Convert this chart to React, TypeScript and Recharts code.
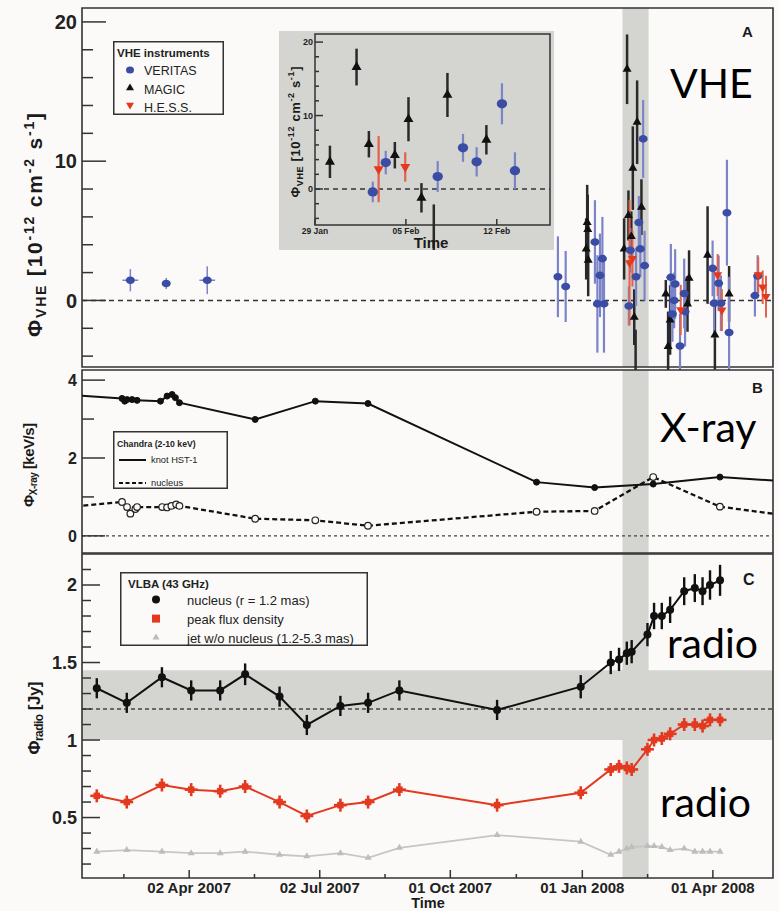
import React from "react";
import {
  ComposedChart,
  Scatter,
  Line,
  XAxis,
  YAxis,
  ReferenceArea,
  ReferenceLine,
  ErrorBar,
  Legend,
} from "recharts";

// time axis: days counted from 01 Jan 2007
const xDomain: [number, number] = [16.3, 497.9];
const xMajorTicks = [91, 182, 273, 365, 456];
const xMajorLabels = ["02 Apr 2007", "02 Jul 2007", "01 Oct 2007", "01 Jan 2008", "01 Apr 2008"];
const xMinorTicks = [45.5, 136.5, 227.5, 319, 410.5];
const flareBand = [393, 411.2]; // 29 Jan - 16 Feb 2008
const insetStart = 393; // 29 Jan 2008

// panel A: VHE flux [1e-12 cm-2 s-1]
const vheDomain: [number, number] = [-4.78, 21.0];
const vheTicks = [-4, -2, 0, 2, 4, 6, 8, 10, 12, 14, 16, 18, 20];
const vheMajor = [0, 10, 20];

const veritasEarlyDay = [50, 75, 103.6];
const veritasEarlyFlux = [1.45, 1.22, 1.45];
const veritasEarlyErr = [0.8, 0.4, 1.0];
const veritasEarlyXErr = [5.5, 0, 5.5];

const veritasDay = [348, 353.4, 373.8, 375.5, 377.3, 379, 380.1, 426.7, 427.8, 429, 429.7, 433.1, 436, 436.6, 455.8, 456.9, 460, 461.6, 465.8, 467.3, 485.3, 487.2];
const veritasFlux = [1.7, 1.0, 4.2, -0.25, 1.8, 3.0, -0.25, 1.66, -0.97, 0, 1.18, -3.27, 0.5, -0.8, 2.3, -0.2, 1.23, -0.2, 6.3, -2.3, 0.35, 1.75];
const veritasErr = [2.9, 2.55, 3, 3.5, 3, 3, 3.5, 2.4, 2, 2, 2.5, 2.3, 2.5, 2.5, 2, 2.5, 2, 2, 3.8, 4, 1.5, 1.5];

const magicDay = [367.7, 368.4, 368.8, 369.1, 423.2, 424.8, 426.2, 438.3, 439.4, 452.3, 457.4, 467.3];
const magicFlux = [3.7, 5.6, 5.1, 2.9, 0.47, -3.3, -1.4, -0.25, 1.6, 3.26, -2.47, 0.47];
const magicErr = [2.2, 2.7, 2.5, 2.6, 1.0, 2.5, 2.5, 2, 2, 3.5, 2.5, 2];

const hessDay = [433.6, 459.3, 462.3, 487.6, 490.7, 493];
const hessFlux = [-0.68, 1.83, -0.7, 1.83, 0.95, 0.27];
const hessErr = [1.8, 1.5, 1.5, 1.3, 1.2, 1.5];

// inset: days counted from 29 Jan 2008
const insetDomain: [number, number] = [0, 18.1];
const insetYDomain: [number, number] = [-4.9, 21.1];
const insetXTicks = [0, 7, 14];
const insetXLabels = ["29 Jan", "05 Feb", "12 Feb"];
const insetMagicDay = [1.15, 3.2, 4.15, 6.15, 7.2, 8.2, 9.15, 10.2, 13.2];
const insetMagicFlux = [3.7, 16.6, 6.1, 4.6, 9.5, -1.2, -6.3, 12.8, 6.7];
const insetMagicErr = [2.2, 2.5, 1.8, 1.8, 3, 2, 4.2, 3, 2];
const insetVeritasDay = [4.45, 5.45, 9.45, 11.4, 12.45, 14.4, 15.4];
const insetVeritasFlux = [-0.4, 3.6, 1.7, 5.6, 3.7, 11.6, 2.5];
const insetVeritasErr = [1.4, 1.6, 2.1, 1.9, 2, 2.8, 2.5];
const insetHessDay = [4.9, 6.95];
const insetHessFlux = [2.7, 3.0];
const insetHessErr = [4.5, 2];

// panel B: Chandra X-ray [keV/s]
const xrayDomain: [number, number] = [-0.44, 4.26];
const xrayTicks = [0, 1, 2, 3, 4];
const xrayMajor = [0, 2, 4];
const hstDay = [-5, 44.2, 46.1, 47.7, 51.2, 54.7, 71, 75.6, 79.1, 81.4, 84.2, 137, 178.9, 215.6, 333.1, 373.6, 414.4, 460.9, 520];
const hstFlux = [3.65, 3.53, 3.46, 3.5, 3.5, 3.48, 3.46, 3.59, 3.63, 3.55, 3.42, 2.99, 3.46, 3.4, 1.38, 1.24, 1.33, 1.51, 1.37];
const nucXDay = [-5, 44.2, 47.7, 50, 53.5, 54.7, 72.2, 75.6, 78.6, 81.9, 84.2, 137, 178.9, 215.6, 333.1, 373.6, 414.4, 460.9, 520];
const nucXFlux = [0.7, 0.87, 0.74, 0.57, 0.69, 0.74, 0.74, 0.73, 0.77, 0.81, 0.77, 0.44, 0.4, 0.26, 0.62, 0.64, 1.51, 0.75, 0.46];

// panel C: VLBA 43 GHz [Jy]
const radioDomain: [number, number] = [0.11, 2.2];
const radioTicks = [0.2, 0.3, 0.4, 0.5, 0.6, 0.7, 0.8, 0.9, 1, 1.1, 1.2, 1.3, 1.4, 1.5, 1.6, 1.7, 1.8, 1.9, 2, 2.1];
const radioMajor = [0.5, 1, 1.5, 2];
const radioDay = [26.6, 47.5, 72, 92.4, 112.6, 130, 154, 173, 196.4, 215.7, 237.5, 305.6, 363.9, 384.8, 390.6, 396, 399.4, 410.4, 415, 420.4, 426.2, 436, 443.4, 448.8, 454, 461];
const nucleusFlux = [1.334, 1.24, 1.405, 1.32, 1.32, 1.424, 1.28, 1.097, 1.22, 1.24, 1.32, 1.194, 1.344, 1.5, 1.52, 1.56, 1.57, 1.68, 1.8, 1.8, 1.84, 1.96, 1.98, 1.96, 2.0, 2.03];
const nucleusErr = [0.065, 0.065, 0.065, 0.065, 0.065, 0.07, 0.065, 0.065, 0.065, 0.065, 0.065, 0.065, 0.075, 0.075, 0.075, 0.075, 0.075, 0.075, 0.085, 0.085, 0.085, 0.09, 0.09, 0.09, 0.095, 0.1];
const peakFlux = [0.64, 0.6, 0.71, 0.68, 0.67, 0.7, 0.6, 0.51, 0.58, 0.6, 0.68, 0.58, 0.66, 0.81, 0.83, 0.82, 0.81, 0.94, 1.0, 1.01, 1.04, 1.1, 1.1, 1.09, 1.13, 1.13];
const peakErr = 0.042;
const peakXErr = 4.5;
const jetFlux = [0.28, 0.29, 0.28, 0.27, 0.27, 0.28, 0.26, 0.25, 0.27, 0.24, 0.305, 0.387, 0.344, 0.26, 0.28, 0.3, 0.31, 0.316, 0.316, 0.31, 0.29, 0.3, 0.28, 0.28, 0.28, 0.28];
const quiescentBand = [1.0, 1.45];
const quiescentLevel = 1.2;

const BG = "#fbfaf8";
const GRAY = "#d4d5d0";
const FRAME = "#333";
const FONT = "'Liberation Sans', Arial, Helvetica, sans-serif";
const BLUE = "#3a4ca4";
const BLUE_ERR = "#7c84c8";
const RED = "#e2391f";
const RED_ERR = "#e4604a";

type Pt = { day: number; v: number; e: number; ex: number };
const zip = (d: number[], v: number[], e?: number[], ex?: number[], shift = 0): Pt[] =>
  d.map((day, i) => ({ day: day + shift, v: v[i], e: e ? e[i] : 0, ex: ex ? ex[i] : 0 }));

const veritasEarly = zip(veritasEarlyDay, veritasEarlyFlux, veritasEarlyErr, veritasEarlyXErr);
const veritasMain = [...zip(veritasDay, veritasFlux, veritasErr), ...zip(insetVeritasDay, insetVeritasFlux, insetVeritasErr, undefined, insetStart)];
const magicMain = [...zip(magicDay, magicFlux, magicErr), ...zip(insetMagicDay, insetMagicFlux, insetMagicErr, undefined, insetStart)];
const hessMain = [...zip(hessDay, hessFlux, hessErr), ...zip(insetHessDay, insetHessFlux, insetHessErr, undefined, insetStart)];
const insetVeritas = zip(insetVeritasDay, insetVeritasFlux, insetVeritasErr);
const insetMagic = zip(insetMagicDay, insetMagicFlux, insetMagicErr);
const insetHess = zip(insetHessDay, insetHessFlux, insetHessErr);
const hstData = zip(hstDay, hstFlux);
const nucXData = zip(nucXDay, nucXFlux);
const nucleusData = zip(radioDay, nucleusFlux, nucleusErr);
const peakData = zip(radioDay, peakFlux, radioDay.map(() => peakErr), radioDay.map(() => peakXErr));
const jetData = zip(radioDay, jetFlux);

const near = (list: number[], v: number) => list.some((m) => Math.abs(m - v) < 1e-6);

const makeYTick = (major: number[], big: number, small: number, fontSize: number, gap: number) => (p: any) => {
  const v = p.payload.value;
  const isMajor = near(major, v);
  const ax = p.x + gap;
  return (
    <g>
      <line x1={ax} x2={ax + (isMajor ? big : small)} y1={p.y} y2={p.y} stroke={FRAME} strokeWidth={1.5} />
      {isMajor && (
        <text x={p.x} y={p.y} dy="0.36em" textAnchor="end" fontSize={fontSize} fontWeight="bold" fill="#222" fontFamily={FONT}>
          {String(v)}
        </text>
      )}
    </g>
  );
};

const makeXTick = (major: number[], labels: string[] | null, big: number, small: number, fontSize: number, dy: number) => (p: any) => {
  const v = p.payload.value;
  const idx = major.findIndex((m) => Math.abs(m - v) < 1e-6);
  const len = idx >= 0 ? big : small;
  return (
    <g>
      <line x1={p.x} x2={p.x} y1={p.y} y2={p.y - len} stroke={FRAME} strokeWidth={1.5} />
      {labels && idx >= 0 && (
        <text x={p.x} y={p.y + dy} textAnchor="middle" fontSize={fontSize} fontWeight="bold" fill="#222" fontFamily={FONT}>
          {labels[idx]}
        </text>
      )}
    </g>
  );
};

const ellipse = (rx: number, ry: number, fill: string) => (p: any) => (
  <ellipse cx={p.cx} cy={p.cy} rx={rx} ry={ry} fill={fill} />
);
const triUp = (s: number, fill: string) => (p: any) => {
  const h = s * 0.866;
  return <polygon points={`${p.cx},${p.cy - (2 * h) / 3} ${p.cx - s / 2},${p.cy + h / 3} ${p.cx + s / 2},${p.cy + h / 3}`} fill={fill} />;
};
const triDown = (s: number, fill: string) => (p: any) => {
  const h = s * 0.866;
  return <polygon points={`${p.cx},${p.cy + (2 * h) / 3} ${p.cx - s / 2},${p.cy - h / 3} ${p.cx + s / 2},${p.cy - h / 3}`} fill={fill} />;
};
const square = (s: number, fill: string) => (p: any) => (
  <rect x={p.cx - s / 2} y={p.cy - s / 2} width={s} height={s} fill={fill} />
);
const circle = (r: number, fill: string) => (p: any) => <circle cx={p.cx} cy={p.cy} r={r} fill={fill} />;

const allXTicks = [...xMinorTicks, ...xMajorTicks].sort((a, b) => a - b);

function LegendVHE() {
  return (
    <svg width={111} height={74} style={{ display: "block" }}>
      <rect x={0.75} y={0.75} width={109.5} height={72.5} fill="none" stroke={FRAME} strokeWidth={1.5} />
      <text x={4} y={16} fontSize={11.5} fontWeight="bold" fill="#222" fontFamily={FONT}>VHE instruments</text>
      <ellipse cx={17} cy={29} rx={4} ry={3.6} fill={BLUE} />
      <text x={31} y={34} fontSize={12.5} fill="#222" fontFamily={FONT}>VERITAS</text>
      {triUp(8, "#111")({ cx: 17, cy: 47 })}
      <text x={31} y={52.5} fontSize={12.5} fill="#222" fontFamily={FONT}>MAGIC</text>
      {triDown(8, RED)({ cx: 17, cy: 64 })}
      <text x={31} y={70.5} fontSize={12.5} fill="#222" fontFamily={FONT}>H.E.S.S.</text>
    </svg>
  );
}

function LegendXray() {
  return (
    <svg width={115} height={58} style={{ display: "block" }}>
      <rect x={0.75} y={0.75} width={113.5} height={56.5} fill="none" stroke={FRAME} strokeWidth={1.5} />
      <text x={4} y={15.5} fontSize={8.7} fontWeight="bold" fill="#222" fontFamily={FONT}>Chandra (2-10 keV)</text>
      <line x1={6} x2={33} y1={29} y2={29} stroke="#111" strokeWidth={2} />
      <text x={38} y={32.3} fontSize={9.3} fill="#222" fontFamily={FONT}>knot HST-1</text>
      <line x1={6} x2={33} y1={52} y2={52} stroke="#111" strokeWidth={2} strokeDasharray="4 2.5" />
      <text x={38} y={55.3} fontSize={9.3} fill="#222" fontFamily={FONT}>nucleus</text>
    </svg>
  );
}

function LegendRadio() {
  return (
    <svg width={248} height={74} style={{ display: "block" }}>
      <rect x={0.75} y={0.75} width={246.5} height={72.5} fill="none" stroke={FRAME} strokeWidth={1.5} />
      <text x={8} y={16} fontSize={11.5} fontWeight="bold" fill="#222" fontFamily={FONT}>VLBA (43 GHz)</text>
      <circle cx={36} cy={27.6} r={4} fill="#111" />
      <text x={67} y={33.3} fontSize={13} fill="#222" fontFamily={FONT}>nucleus (r = 1.2 mas)</text>
      <rect x={32} y={42.6} width={8} height={8} fill={RED} />
      <text x={67} y={52.3} fontSize={13} fill="#222" fontFamily={FONT}>peak flux density</text>
      {triUp(7, "#bbb")({ cx: 36, cy: 65.6 })}
      <text x={67} y={71} fontSize={13} fill="#222" fontFamily={FONT}>jet w/o nucleus (1.2-5.3 mas)</text>
    </svg>
  );
}

function Overlay() {
  const t = { fontFamily: FONT, fontWeight: "bold" as const, fill: "#1a1a1a" };
  const big = { fontFamily: "Lato, 'Open Sans', sans-serif", fontSize: 41, fill: "#000" };
  return (
    <svg width={779} height={911} style={{ position: "absolute", left: 0, top: 0, pointerEvents: "none" }}>
      <text {...t} transform="rotate(-90 42 225)" x={42} y={225} textAnchor="middle" fontSize={21} textLength={224} lengthAdjust="spacing">
        Φ<tspan fontSize={14} dy={4}>VHE</tspan><tspan dy={-4}> [10</tspan><tspan fontSize={14} dy={-8}>-12</tspan><tspan dy={8}> cm</tspan><tspan fontSize={14} dy={-8}>-2</tspan><tspan dy={8}> s</tspan><tspan fontSize={14} dy={-8}>-1</tspan><tspan dy={8}>]</tspan>
      </text>
      <text {...t} transform="rotate(-90 34 465)" x={34} y={465} textAnchor="middle" fontSize={15} textLength={84} lengthAdjust="spacing">
        Φ<tspan fontSize={10} dy={3}>X-ray</tspan><tspan dy={-3}> [keV/s]</tspan>
      </text>
      <text {...t} transform="rotate(-90 40 718)" x={40} y={718} textAnchor="middle" fontSize={17} textLength={73} lengthAdjust="spacing">
        Φ<tspan fontSize={12} dy={3}>radio</tspan><tspan dy={-3}> [Jy]</tspan>
      </text>
      <text {...t} transform="rotate(-90 300 132)" x={300} y={132} textAnchor="middle" fontSize={13} textLength={131} lengthAdjust="spacing">
        Φ<tspan fontSize={9} dy={3}>VHE</tspan><tspan dy={-3}> [10</tspan><tspan fontSize={9} dy={-6}>-12</tspan><tspan dy={6}> cm</tspan><tspan fontSize={9} dy={-6}>-2</tspan><tspan dy={6}> s</tspan><tspan fontSize={9} dy={-6}>-1</tspan><tspan dy={6}>]</tspan>
      </text>
      <text {...t} x={431} y={248} textAnchor="middle" fontSize={15}>Time</text>
      <text {...t} x={428} y={908} textAnchor="middle" fontSize={14.5}>Time</text>
      <text {...t} x={742} y={37} fontSize={15}>A</text>
      <text {...t} x={752} y={393} fontSize={15}>B</text>
      <text {...t} x={743} y={585} fontSize={16}>C</text>
      <text {...big} x={670} y={98}>VHE</text>
      <text {...big} x={660} y={442}>X-ray</text>
      <text {...big} x={667} y={658}>radio</text>
      <text {...big} x={660} y={817}>radio</text>
    </svg>
  );
}

export default function App() {
  return (
    <div style={{ position: "absolute", left: 0, top: 0, width: 779, height: 911, background: BG, overflow: "hidden", fontFamily: FONT }}>
      {/* panel A */}
      <div style={{ position: "absolute", left: 0, top: 0 }}>
        <ComposedChart width={779} height={370} margin={{ top: 8, right: 6, bottom: 3, left: 0 }}>
          <XAxis type="number" dataKey="day" domain={xDomain} allowDataOverflow ticks={allXTicks} interval={0} height={0}
            tickSize={0} tickMargin={0} axisLine={false} tickLine={false} tick={makeXTick(xMajorTicks, null, 16, 8, 0, 0)} />
          <YAxis type="number" dataKey="v" domain={vheDomain} allowDataOverflow ticks={vheTicks} interval={0} width={82}
            tickSize={0} tickMargin={5} axisLine={false} tickLine={false} tick={makeYTick(vheMajor, 24, 11, 20, 5)} />
          <ReferenceArea x1={flareBand[0]} x2={flareBand[1]} y1={vheDomain[0]} y2={vheDomain[1]} fill={GRAY} fillOpacity={1} stroke="none" />
          <ReferenceLine y={0} stroke="#333" strokeWidth={1.5} strokeDasharray="5 4" />
          <Scatter data={veritasEarly} shape={ellipse(4.5, 3.8, BLUE)} isAnimationActive={false}>
            <ErrorBar dataKey="e" direction="y" width={0} stroke={BLUE_ERR} strokeWidth={1.5} />
            <ErrorBar dataKey="ex" direction="x" width={0} stroke={BLUE_ERR} strokeWidth={1.5} />
          </Scatter>
          <Scatter data={magicMain} shape={triUp(9, "#111")} isAnimationActive={false}>
            <ErrorBar dataKey="e" direction="y" width={0} stroke="#2a2a2a" strokeWidth={2.5} />
          </Scatter>
          <Scatter data={veritasMain} shape={ellipse(4.5, 3.8, BLUE)} isAnimationActive={false}>
            <ErrorBar dataKey="e" direction="y" width={0} stroke={BLUE_ERR} strokeWidth={2.2} />
          </Scatter>
          <Scatter data={hessMain} shape={triDown(9, RED)} isAnimationActive={false}>
            <ErrorBar dataKey="e" direction="y" width={0} stroke={RED_ERR} strokeWidth={2} />
          </Scatter>
          <ReferenceArea x1={xDomain[0]} x2={xDomain[1]} y1={vheDomain[0]} y2={vheDomain[1]} fill="none" stroke={FRAME} strokeWidth={1.6} />
          <Legend content={() => <LegendVHE />} layout="vertical" align="center" verticalAlign="middle" wrapperStyle={{ left: 113, top: 41, width: 111 }} />
        </ComposedChart>
      </div>

      {/* inset */}
      <div style={{ position: "absolute", left: 279, top: 31, width: 275, height: 219, background: GRAY }}>
        <ComposedChart width={275} height={219} margin={{ top: 3, right: 4, bottom: 0, left: 0 }}>
          <XAxis type="number" dataKey="day" domain={insetDomain} allowDataOverflow ticks={insetXTicks} interval={0} height={25}
            tickSize={0} tickMargin={0} axisLine={false} tickLine={false} tick={makeXTick(insetXTicks, insetXLabels, 6, 3, 8.5, 9)} />
          <YAxis type="number" dataKey="v" domain={insetYDomain} allowDataOverflow ticks={vheTicks} interval={0} width={36}
            tickSize={0} tickMargin={2} axisLine={false} tickLine={false} tick={makeYTick(vheMajor, 8, 4, 9, 2)} />
          <ReferenceLine y={0} stroke="#333" strokeWidth={1.5} strokeDasharray="5 4" />
          <Scatter data={insetMagic} shape={triUp(10, "#111")} isAnimationActive={false}>
            <ErrorBar dataKey="e" direction="y" width={0} stroke="#2a2a2a" strokeWidth={2.5} />
          </Scatter>
          <Scatter data={insetVeritas} shape={ellipse(5.2, 4.6, BLUE)} isAnimationActive={false}>
            <ErrorBar dataKey="e" direction="y" width={0} stroke={BLUE_ERR} strokeWidth={2.2} />
          </Scatter>
          <Scatter data={insetHess} shape={triDown(10, RED)} isAnimationActive={false}>
            <ErrorBar dataKey="e" direction="y" width={0} stroke={RED_ERR} strokeWidth={2.2} />
          </Scatter>
          <ReferenceArea x1={insetDomain[0]} x2={insetDomain[1]} y1={insetYDomain[0]} y2={insetYDomain[1]} fill="none" stroke={FRAME} strokeWidth={1.5} />
        </ComposedChart>
      </div>

      {/* panel B */}
      <div style={{ position: "absolute", left: 0, top: 367 }}>
        <ComposedChart width={779} height={190} margin={{ top: 3, right: 6, bottom: 4, left: 0 }}>
          <XAxis type="number" dataKey="day" domain={xDomain} allowDataOverflow ticks={allXTicks} interval={0} height={0}
            tickSize={0} tickMargin={0} axisLine={false} tickLine={false} tick={makeXTick(xMajorTicks, null, 9, 4.5, 0, 0)} />
          <YAxis type="number" dataKey="v" domain={xrayDomain} allowDataOverflow ticks={xrayTicks} interval={0} width={82}
            tickSize={0} tickMargin={5} axisLine={false} tickLine={false} tick={makeYTick(xrayMajor, 23, 12, 16, 5)} />
          <ReferenceArea x1={flareBand[0]} x2={flareBand[1]} y1={xrayDomain[0]} y2={xrayDomain[1]} fill={GRAY} fillOpacity={1} stroke="none" />
          <ReferenceLine y={0} stroke="#444" strokeWidth={1.3} strokeDasharray="3 3" />
          <Line data={hstData} dataKey="v" stroke="#111" strokeWidth={2} isAnimationActive={false}
            dot={{ r: 3, fill: "#111", stroke: "#111", strokeWidth: 1 }} />
          <Line data={nucXData} dataKey="v" stroke="#111" strokeWidth={2.3} strokeDasharray="5 3" isAnimationActive={false}
            dot={{ r: 3.3, fill: BG, stroke: "#222", strokeWidth: 1.2, strokeDasharray: "none" }} />
          <ReferenceArea x1={xDomain[0]} x2={xDomain[1]} y1={xrayDomain[0]} y2={xrayDomain[1]} fill="none" stroke={FRAME} strokeWidth={1.6} />
          <Legend content={() => <LegendXray />} layout="vertical" align="center" verticalAlign="middle" wrapperStyle={{ left: 113, top: 64, width: 115 }} />
        </ComposedChart>
      </div>

      {/* panel C */}
      <div style={{ position: "absolute", left: 0, top: 551 }}>
        <ComposedChart width={779} height={360} margin={{ top: 3, right: 6, bottom: 0, left: 0 }}>
          <XAxis type="number" dataKey="day" domain={xDomain} allowDataOverflow ticks={allXTicks} interval={0} height={33}
            tickSize={0} tickMargin={0} axisLine={false} tickLine={false} tick={makeXTick(xMajorTicks, xMajorLabels, 8, 4, 15, 15)} />
          <YAxis type="number" dataKey="v" domain={radioDomain} allowDataOverflow ticks={radioTicks} interval={0} width={82}
            tickSize={0} tickMargin={5} axisLine={false} tickLine={false} tick={makeYTick(radioMajor, 18, 9, 18, 5)} />
          <ReferenceArea x1={xDomain[0]} x2={xDomain[1]} y1={quiescentBand[0]} y2={quiescentBand[1]} fill={GRAY} fillOpacity={1} stroke="none" />
          <ReferenceArea x1={flareBand[0]} x2={flareBand[1]} y1={radioDomain[0]} y2={radioDomain[1]} fill={GRAY} fillOpacity={1} stroke="none" />
          <ReferenceLine y={quiescentLevel} stroke="#444" strokeWidth={1.3} strokeDasharray="4 3" />
          <Line data={jetData} dataKey="v" stroke="#c6c6c6" strokeWidth={1.8} dot={false} isAnimationActive={false} />
          <Scatter data={jetData} shape={triUp(7, "#bdbdbd")} isAnimationActive={false} />
          <Line data={peakData} dataKey="v" stroke={RED} strokeWidth={2} dot={false} isAnimationActive={false} />
          <Scatter data={peakData} shape={square(6.5, RED)} isAnimationActive={false}>
            <ErrorBar dataKey="e" direction="y" width={0} stroke={RED} strokeWidth={2.6} />
            <ErrorBar dataKey="ex" direction="x" width={0} stroke={RED} strokeWidth={2.6} />
          </Scatter>
          <Line data={nucleusData} dataKey="v" stroke="#111" strokeWidth={2} dot={false} isAnimationActive={false} />
          <Scatter data={nucleusData} shape={circle(4, "#111")} isAnimationActive={false}>
            <ErrorBar dataKey="e" direction="y" width={0} stroke="#111" strokeWidth={2.4} />
          </Scatter>
          <ReferenceArea x1={xDomain[0]} x2={xDomain[1]} y1={radioDomain[0]} y2={radioDomain[1]} fill="none" stroke={FRAME} strokeWidth={1.6} />
          <Legend content={() => <LegendRadio />} layout="vertical" align="center" verticalAlign="middle" wrapperStyle={{ left: 120, top: 21, width: 248 }} />
        </ComposedChart>
      </div>

      <Overlay />
    </div>
  );
}
